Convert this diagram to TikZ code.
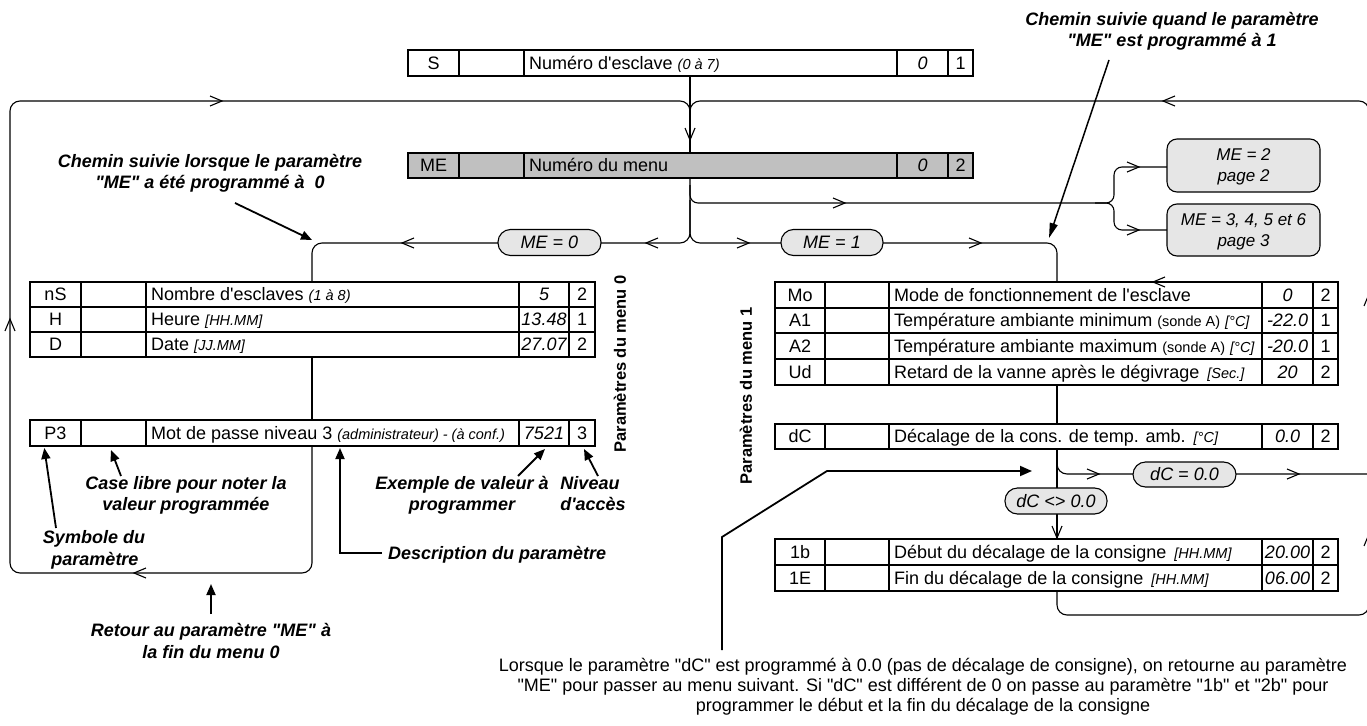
\documentclass[tikz,border=0pt]{standalone}
\usepackage{fontspec}
\setmainfont{Liberation Sans}[Ligatures=TeXOff]
\usetikzlibrary{arrows.meta}
\definecolor{megray}{HTML}{C0C0C0}
\definecolor{pillgray}{HTML}{E6E6E6}
\newcommand{\setcols}[6]{\def\colA{#1}\def\colB{#2}\def\colC{#3}\def\colD{#4}\def\colE{#5}\def\colF{#6}}
\newcommand{\sit}[1]{{\fontsize{14.5}{16}\selectfont\itshape #1}}
\newcommand{\smup}[1]{{\fontsize{14.5}{16}\selectfont #1}}
\newcommand{\prow}[8]{%
  \filldraw[cell, fill=#8] (\colA,#2) rectangle (\colF,#3);
  \draw[cell] (\colB,#2) -- (\colB,#3) (\colC,#2) -- (\colC,#3) (\colD,#2) -- (\colD,#3) (\colE,#2) -- (\colE,#3);
  \node[txt] (#1-sym) at ({(\colA+\colB)/2},{(#2+#3)/2+6.4}) {#4};
  \node[txt,anchor=base west] (#1-desc) at ({\colC+5},{(#2+#3)/2+6.4}) {#5};
  \node[txt] (#1-val) at ({(\colD+\colE)/2},{(#2+#3)/2+6.4}) {\itshape #6};
  \node[txt] (#1-lvl) at ({(\colE+\colF)/2},{(#2+#3)/2+6.4}) {#7};
}
\tikzset{
  cell/.style={line width=1.2pt},
  txt/.style={anchor=base, inner sep=0pt, font=\fontsize{18}{21}\selectfont},
  anntxt/.style={anchor=base, inner sep=0pt, font=\fontsize{18}{21}\selectfont\bfseries\itshape},
  flow/.style={line width=1.1pt, rounded corners=10pt},
  pill/.style={draw, line width=1.1pt, fill=pillgray, rounded corners=12.5pt, minimum height=26pt, inner sep=0pt, text height=12.9pt, text depth=0pt, font=\fontsize{18}{21}\selectfont\itshape},
  mebox/.style={draw, line width=1.1pt, fill=pillgray, rounded corners=10pt, minimum width=153pt, minimum height=53pt, inner sep=0pt},
  annarrow/.style={line width=1.8pt, -{Triangle[length=11pt,width=9pt]}},
  chevron/.pic={\draw[line width=1.1pt] (-6,5) -- (6,0) -- (-6,-5);}
}
\begin{document}
\begin{tikzpicture}[x=1pt,y=-1pt]
\fill[white] (0,0) rectangle (1367,725);
\useasboundingbox (0,0) rectangle (1367,725);

% ---------- flow lines ----------
\coordinate (top) at (690,101);
\draw[flow] (690,76) -- (690,153);
\draw[flow] (312,446) -- (312,573) -- (10,573) -- (10,101) -- (690,101) -- (690,125);
\draw[flow] (1057,591) -- (1057,615) -- (1369,615) -- (1369,101) -- (690,101) -- (690,125);
\draw[flow] (690,178) -- (690,243) -- (312,243) -- (312,282);
\draw[flow] (690,200) -- (690,243) -- (1057,243) -- (1057,282);
\draw[flow, rounded corners=8pt] (690,185) -- (690,203) -- (1114,203) -- (1114,167) -- (1167,167);
\draw[flow, rounded corners=8pt] (1095,203) -- (1114,203) -- (1114,230) -- (1167,230);
\draw[flow] (312,357) -- (312,420);
\draw[flow] (1057,385) -- (1057,424);
\draw[flow] (1057,449) -- (1057,539);
\draw[flow] (1057,449) -- (1057,474) -- (1369,474);

% ---------- tables ----------
\setcols{408}{459}{524}{897}{948}{973}
\prow{S}{50}{76}{S}{Numéro d'esclave \sit{(0 à 7)}}{0}{1}{white}
\prow{ME}{153}{178}{ME}{Numéro du menu}{0}{2}{megray}

\setcols{30}{81}{146}{519}{569}{595}
\prow{nS}{282}{307}{nS}{Nombre d'esclaves \sit{(1 à 8)}}{5}{2}{white}
\prow{H}{307}{332}{H}{Heure \sit{[HH.MM]}}{13.48}{1}{white}
\prow{D}{332}{357}{D}{Date \sit{[JJ.MM]}}{27.07}{2}{white}
\prow{P3}{420}{446}{P3}{Mot de passe niveau 3 \sit{(administrateur) - (à conf.)}}{7521}{3}{white}

\setcols{775}{825}{889}{1262}{1313}{1338}
\prow{Mo}{282}{308}{Mo}{Mode de fonctionnement de l'esclave}{0}{2}{white}
\prow{A1}{308}{333}{A1}{Température ambiante minimum \smup{(sonde A)} \sit{[°C]}}{-22.0}{1}{white}
\prow{A2}{333}{359}{A2}{Température ambiante maximum \smup{(sonde A)} \sit{[°C]}}{-20.0}{1}{white}
\prow{Ud}{359}{385}{Ud}{Retard de la vanne après le dégivrage\hspace{8pt}\sit{[Sec.]}}{20}{2}{white}
\prow{dC}{424}{449}{dC}{Décalage de la cons. de temp. amb.\hspace{8pt}\sit{[°C]}}{0.0}{2}{white}
\prow{1b}{539}{565}{1b}{Début du décalage de la consigne\hspace{8pt}\sit{[HH.MM]}}{20.00}{2}{white}
\prow{1E}{565}{591}{1E}{Fin du décalage de la consigne\hspace{8pt}\sit{[HH.MM]}}{06.00}{2}{white}

% ---------- pills and boxes ----------
\node[pill, minimum width=103pt] (me0) at (549.5,242.5) {ME = 0};
\node[pill, minimum width=102pt] (me1) at (832,242.5) {ME = 1};
\node[pill, minimum width=103pt, minimum height=25pt] (dc0) at (1184.5,474.5) {dC = 0.0};
\node[pill, minimum width=102pt] (dcn) at (1056,501) {dC <> 0.0};
\node[mebox] (me2) at (1243.5,165.5) {};
\node[txt, font=\fontsize{17}{20}\selectfont\itshape] (me2a) at (1243.5,160) {ME = 2};
\node[txt, font=\fontsize{17}{20}\selectfont\itshape] (me2b) at (1243.5,181) {page 2};
\node[mebox, minimum height=52pt] (me3) at (1243.5,230) {};
\node[txt, font=\fontsize{17}{20}\selectfont\itshape] (me3a) at (1243.5,225) {ME = 3, 4, 5 et 6};
\node[txt, font=\fontsize{17}{20}\selectfont\itshape] (me3b) at (1243.5,246) {page 3};

% ---------- chevrons ----------
\pic[rotate=-90] at (690,134) {chevron};
\pic at (216,101) {chevron};
\pic[rotate=180] at (1169,101) {chevron};
\pic[rotate=90] at (10,325) {chevron};
\pic[rotate=180] at (140,573) {chevron};
\pic[rotate=180] at (408,243) {chevron};
\pic[rotate=180] at (652,243) {chevron};
\pic at (743,243) {chevron};
\pic at (975,243) {chevron};
\pic at (839,203) {chevron};
\pic at (1133,167) {chevron};
\pic at (1133,230) {chevron};
\pic[rotate=180] at (1159,282) {chevron};
\pic at (1093,474) {chevron};
\pic at (1293,474) {chevron};
\pic[rotate=-90] at (1057,532) {chevron};
\pic[rotate=90] at (1369,300) {chevron};
\pic[rotate=90] at (1369,540) {chevron};

% ---------- rotated labels ----------
\node[rotate=90, inner sep=0pt, font=\fontsize{16.5}{19}\selectfont\bfseries] (lab0) at (620,364) {Paramètres du menu 0};
\node[rotate=90, inner sep=0pt, font=\fontsize{16.5}{19}\selectfont\bfseries] (lab1) at (746,396) {Paramètres du menu 1};

% ---------- annotations ----------
\node[anntxt] (c0a) at (210,167) {Chemin suivie lorsque le paramètre};
\node[anntxt] (c0b) at (210,188) {"ME" a été programmé à~~0};
\coordinate (c0s) at (235,203);
\coordinate (c0t) at (312,240);
\draw[annarrow] (c0s) -- (c0t);

\node[anntxt] (c1a) at (1172,26) {Chemin suivie quand le paramètre};
\node[anntxt] (c1b) at (1172,47) {"ME" est programmé à 1};
\coordinate (c1s) at (1109,60);
\coordinate (c1t) at (1049,238);
\draw[line width=1.5pt, -{Triangle[length=15pt,width=8pt]}] (c1s) -- (c1t);

\node[anntxt] (sy1) at (94,543) {Symbole du};
\node[anntxt] (sy2) at (95,565) {paramètre};
\draw[annarrow] (56,528) -- (P3-sym.south west |- 0,448);

\node[anntxt] (cl1) at (186,489) {Case libre pour noter la};
\node[anntxt] (cl2) at (186,510) {valeur programmée};
\draw[annarrow] (121,476) -- (111,450);

\node[anntxt, anchor=base west] (desc) at (388,559) {Description du paramètre};
\draw[annarrow] (desc.west |- 0,553) ++(-6,0) -- (340,553) -- (340,448);

\node[anntxt] (ex1) at (462,489) {Exemple de valeur à};
\node[anntxt] (ex2) at (462,510) {programmer};
\draw[annarrow] (518,476) -- (545,449);

\node[anntxt] (nv1) at (590,489) {Niveau};
\node[anntxt] (nv2) at (593,510) {d'accès};
\draw[annarrow] (598,476) -- (584,449);

\node[anntxt] (rt1) at (211,636) {Retour au paramètre "ME" à};
\node[anntxt] (rt2) at (211,658) {la fin du menu 0};
\draw[annarrow] (211,614) -- (211,584);

\node[txt] (p1) at (923,671) {Lorsque le paramètre "dC" est programmé à 0.0 (pas de décalage de consigne), on retourne au paramètre};
\node[txt] (p2) at (923,691) {"ME" pour passer au menu suivant. Si "dC" est différent de 0 on passe au paramètre "1b" et "2b" pour};
\node[txt] (p3) at (923,711) {programmer le début et la fin du décalage de la consigne};
\draw[line width=1.8pt, -{Triangle[length=12pt,width=10pt]}] (722,650) -- (722,537) -- (827,471) -- (1032,471);
\end{tikzpicture}
\end{document}
